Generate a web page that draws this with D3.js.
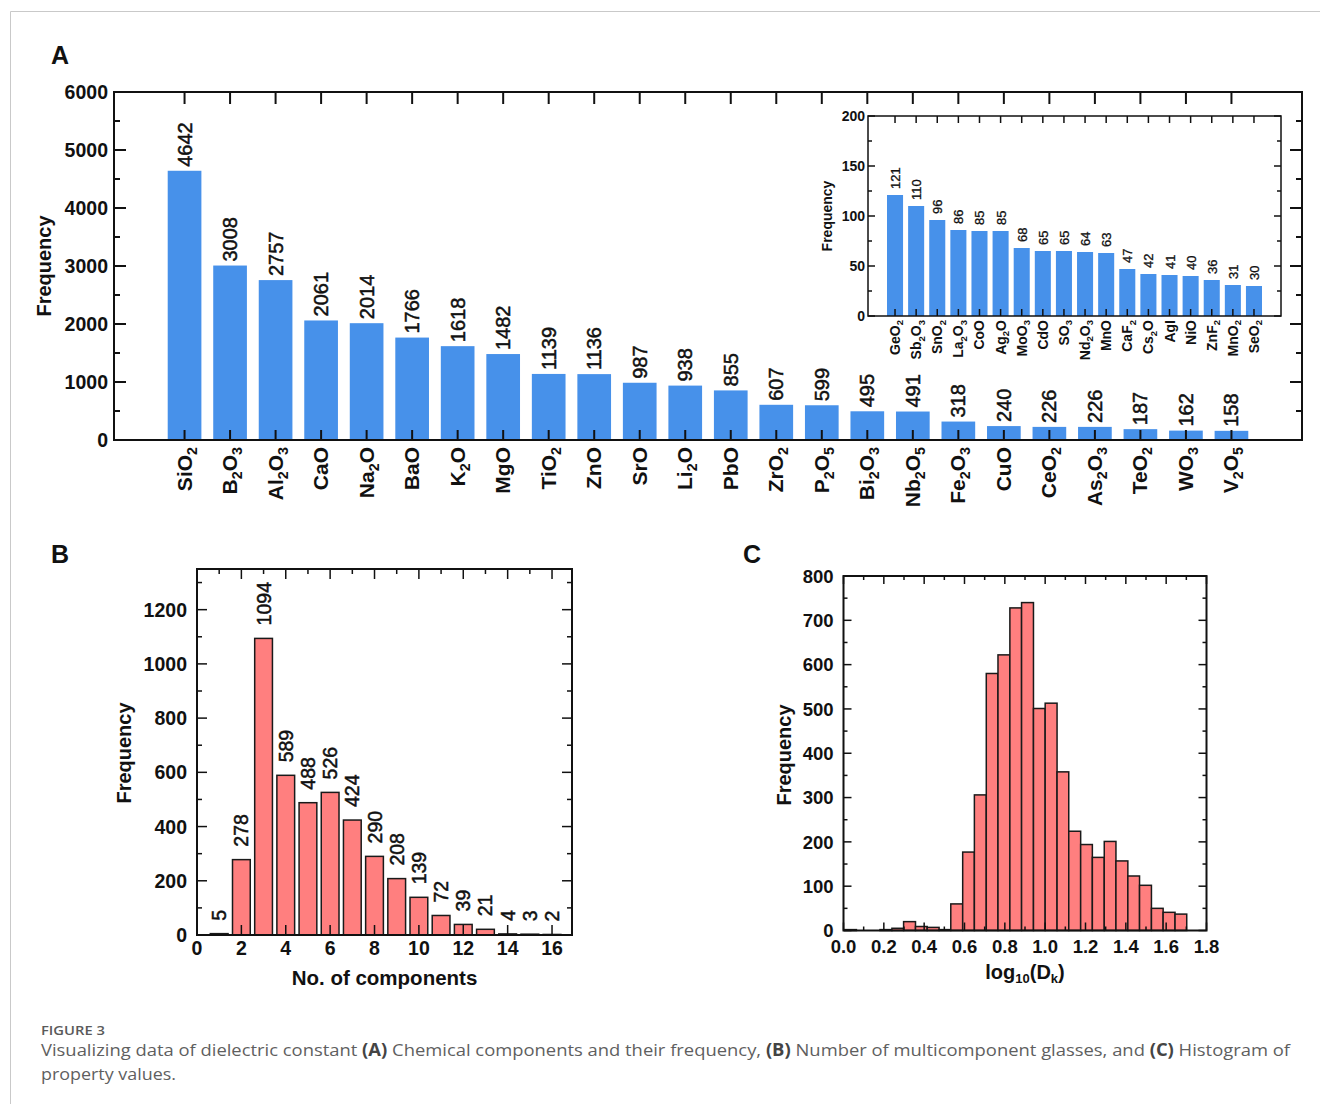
<!DOCTYPE html>
<html>
<head>
<meta charset="utf-8">
<script src="https://cdn.jsdelivr.net/npm/d3@7"></script>
<style>
  html, body { margin: 0; padding: 0; background: #fff; }
  svg { display: block; }
</style>
</head>
<body>
<script>
// ---------------- DATA ----------------
const catsA = ["SiO2","B2O3","Al2O3","CaO","Na2O","BaO","K2O","MgO","TiO2","ZnO","SrO","Li2O","PbO","ZrO2","P2O5","Bi2O3","Nb2O5","Fe2O3","CuO","CeO2","As2O3","TeO2","WO3","V2O5"];
const valsA = [4642,3008,2757,2061,2014,1766,1618,1482,1139,1136,987,938,855,607,599,495,491,318,240,226,226,187,162,158];
const ticksA = [0,1000,2000,3000,4000,5000,6000];

const catsInset = ["GeO2","Sb2O3","SnO2","La2O3","CoO","Ag2O","MoO3","CdO","SO3","Nd2O3","MnO","CaF2","Cs2O","AgI","NiO","ZnF2","MnO2","SeO2"];
const valsInset = [121,110,96,86,85,85,68,65,65,64,63,47,42,41,40,36,31,30];
const ticksInset = [0,50,100,150,200];

const compsB = [1,2,3,4,5,6,7,8,9,10,11,12,13,14,15,16];
const valsB = [5,278,1094,589,488,526,424,290,208,139,72,39,21,4,3,2];
const xTicksB = [0,2,4,6,8,10,12,14,16];
const yTicksB = [0,200,400,600,800,1000,1200];

const binEdgesC = [0.006,0.064,0.123,0.181,0.240,0.298,0.357,0.415,0.474,0.532,0.591,0.649,0.708,0.766,0.825,0.883,0.942,1.000,1.059,1.117,1.176,1.234,1.293,1.351,1.410,1.468,1.527,1.585,1.644,1.702];
const countsC = [2,0,0,2,5,20,9,7,2,60,177,306,580,622,728,740,501,513,358,224,194,165,201,157,123,102,50,41,37];
const xTicksC = [0,0.2,0.4,0.6,0.8,1.0,1.2,1.4,1.6,1.8];
const yTicksC = [0,100,200,300,400,500,600,700,800];

// ---------------- SETUP ----------------
const W = 1320, H = 1104;
const FONT = "'Liberation Sans', Arial, Helvetica, sans-serif";
const svg = d3.select("body").append("svg").attr("width", W).attr("height", H)
  .style("font-family", FONT);

// page border
svg.append("path").attr("d", `M10.5,${H} L10.5,11.5 L${W},11.5`)
  .attr("fill", "none").attr("stroke", "#c9c9c9").attr("stroke-width", 1);

function formula(textSel, str, fs) {
  const parts = str.match(/\d+|\D+/g);
  let sub = false;
  parts.forEach(p => {
    if (/^\d+$/.test(p)) {
      textSel.append("tspan").attr("font-size", fs * 0.68).attr("dy", fs * 0.24).text(p);
      sub = true;
    } else {
      const t = textSel.append("tspan").text(p);
      if (sub) { t.attr("dy", -fs * 0.24); sub = false; }
    }
  });
}

function hTicks(g, y, vals, x0, x1, len, sw) {
  vals.forEach(v => {
    g.append("line").attr("x1", x0).attr("x2", x0 + len).attr("y1", y(v)).attr("y2", y(v))
      .attr("stroke", "#111").attr("stroke-width", sw);
    g.append("line").attr("x1", x1).attr("x2", x1 - len).attr("y1", y(v)).attr("y2", y(v))
      .attr("stroke", "#111").attr("stroke-width", sw);
  });
}
function vTicks(g, xs, y0, y1, lenTop, lenBot, sw) {
  xs.forEach(xv => {
    if (lenTop > 0) g.append("line").attr("x1", xv).attr("x2", xv).attr("y1", y0).attr("y2", y0 + lenTop)
      .attr("stroke", "#111").attr("stroke-width", sw);
    if (lenBot > 0) g.append("line").attr("x1", xv).attr("x2", xv).attr("y1", y1).attr("y2", y1 - lenBot)
      .attr("stroke", "#111").attr("stroke-width", sw);
  });
}
function frame(g, x0, x1, y0, y1, sw) {
  g.append("rect").attr("x", x0).attr("y", y0).attr("width", x1 - x0).attr("height", y1 - y0)
    .attr("fill", "none").attr("stroke", "#111").attr("stroke-width", sw);
}
function rotLabel(g, x, y, text, fs, weight) {
  return g.append("text").attr("transform", `translate(${x},${y}) rotate(-90)`)
    .attr("text-anchor", "middle").attr("font-size", fs).attr("font-weight", weight)
    .attr("fill", "#111").text(text);
}
// value labels: regular weight, slightly thickened like the source raster
function valLabel(g, x, y, v, fs) {
  g.append("text").attr("transform", `translate(${x},${y}) rotate(-90)`)
    .attr("text-anchor", "start").attr("font-size", fs).attr("fill", "#111")
    .attr("stroke", "#111").attr("stroke-width", fs > 15 ? 0.5 : 0.3).text(v);
}

// ---------------- PANEL A ----------------
const gA = svg.append("g");
const AX0 = 114, AX1 = 1302, AY0 = 92, AY1 = 440;
const xA = d3.scaleBand().domain(catsA).range([AX0, AX1]).paddingInner(0.26).paddingOuter(1.18);
const yA = d3.scaleLinear().domain([0, 6000]).range([AY1, AY0]);

gA.selectAll("rect.bar").data(catsA).join("rect").attr("class", "bar")
  .attr("x", d => xA(d)).attr("width", xA.bandwidth())
  .attr("y", (d, i) => yA(valsA[i])).attr("height", (d, i) => yA(0) - yA(valsA[i]))
  .attr("fill", "#4791ea");

const minorA = d3.range(500, 6000, 1000);
hTicks(gA, yA, ticksA, AX0, AX1, 12, 2);
hTicks(gA, yA, minorA, AX0, AX1, 6, 2);
const centersA = catsA.map(c => xA(c) + xA.bandwidth() / 2);
vTicks(gA, centersA, AY0, AY1, 12, 10, 2);
frame(gA, AX0, AX1, AY0, AY1, 2);

gA.selectAll("text.yt").data(ticksA).join("text").attr("class", "yt")
  .attr("x", AX0 - 6).attr("y", d => yA(d)).attr("dy", "0.36em")
  .attr("text-anchor", "end").attr("font-size", 19.5).attr("font-weight", "bold").attr("fill", "#111")
  .text(d => d);

catsA.forEach((c, i) => {
  const cx = centersA[i];
  const t = gA.append("text").attr("transform", `translate(${cx + 7},447) rotate(-90)`)
    .attr("text-anchor", "end").attr("font-size", 21).attr("font-weight", "bold").attr("fill", "#111");
  formula(t, c, 21);
  valLabel(gA, cx + 7, yA(valsA[i]) - 4, valsA[i], 20);
});
rotLabel(gA, 51, 266, "Frequency", 20, "bold");
gA.append("text").attr("x", 51).attr("y", 64).attr("font-size", 25).attr("font-weight", "bold")
  .attr("fill", "#111").text("A");

// ---------------- INSET ----------------
const gI = svg.append("g");
const IX0 = 868, IX1 = 1281, IY0 = 116, IY1 = 316;
const xI = d3.scaleBand().domain(catsInset).range([IX0, IX1]).paddingInner(0.24).paddingOuter(0.9);
const yI = d3.scaleLinear().domain([0, 200]).range([IY1, IY0]);
gI.append("rect").attr("x", IX0).attr("y", IY0).attr("width", IX1 - IX0).attr("height", IY1 - IY0).attr("fill", "#fff");
gI.selectAll("rect.bar").data(catsInset).join("rect").attr("class", "bar")
  .attr("x", d => xI(d)).attr("width", xI.bandwidth())
  .attr("y", (d, i) => yI(valsInset[i])).attr("height", (d, i) => yI(0) - yI(valsInset[i]))
  .attr("fill", "#4791ea");
hTicks(gI, yI, ticksInset, IX0, IX1, 7, 1.5);
hTicks(gI, yI, [25, 75, 125, 175], IX0, IX1, 4, 1.5);
const centersI = catsInset.map(c => xI(c) + xI.bandwidth() / 2);
vTicks(gI, centersI, IY0, IY1, 7, 7, 1.5);
frame(gI, IX0, IX1, IY0, IY1, 1.5);
gI.selectAll("text.yt").data(ticksInset).join("text").attr("class", "yt")
  .attr("x", IX0 - 3).attr("y", d => yI(d)).attr("dy", "0.36em")
  .attr("text-anchor", "end").attr("font-size", 14).attr("font-weight", "bold").attr("fill", "#111")
  .text(d => d);
catsInset.forEach((c, i) => {
  const cx = centersI[i];
  const t = gI.append("text").attr("transform", `translate(${cx + 5},320) rotate(-90)`)
    .attr("text-anchor", "end").attr("font-size", 14).attr("font-weight", "bold").attr("fill", "#111");
  formula(t, c, 14);
  valLabel(gI, cx + 5, yI(valsInset[i]) - 6, valsInset[i], 13);
});
rotLabel(gI, 832, 216, "Frequency", 14, "bold");

// ---------------- PANEL B ----------------
const gB = svg.append("g");
const BX0 = 197, BX1 = 572, BY0 = 569, BY1 = 935;
const xB = d3.scaleLinear().domain([0, 16.9]).range([BX0, BX1]);
const yB = d3.scaleLinear().domain([0, 1350]).range([BY1, BY0]);
gB.selectAll("rect.bar").data(compsB).join("rect").attr("class", "bar")
  .attr("x", d => xB(d - 0.4)).attr("width", d => xB(d + 0.4) - xB(d - 0.4))
  .attr("y", (d, i) => yB(valsB[i])).attr("height", (d, i) => yB(0) - yB(valsB[i]))
  .attr("fill", "#ff7f7f").attr("stroke", "#1a1a1a").attr("stroke-width", 1.5);
hTicks(gB, yB, yTicksB, BX0, BX1, 10, 1.5);
hTicks(gB, yB, d3.range(100, 1350, 200), BX0, BX1, 5, 1.5);
vTicks(gB, xTicksB.map(xB), BY0, BY1, 10, 10, 1.5);
vTicks(gB, d3.range(1, 17, 2).map(xB), BY0, BY1, 5, 0, 1.5);
frame(gB, BX0, BX1, BY0, BY1, 2);
gB.selectAll("text.yt").data(yTicksB).join("text").attr("class", "yt")
  .attr("x", BX0 - 10).attr("y", d => yB(d)).attr("dy", "0.36em")
  .attr("text-anchor", "end").attr("font-size", 19.5).attr("font-weight", "bold").attr("fill", "#111")
  .text(d => d);
gB.selectAll("text.xt").data(xTicksB).join("text").attr("class", "xt")
  .attr("x", d => xB(d)).attr("y", 955)
  .attr("text-anchor", "middle").attr("font-size", 19.5).attr("font-weight", "bold").attr("fill", "#111")
  .text(d => d);
compsB.forEach((c, i) => {
  valLabel(gB, xB(c) + 7, yB(valsB[i]) - 13, valsB[i], 19.5);
});
gB.append("text").attr("x", (BX0 + BX1) / 2).attr("y", 985).attr("text-anchor", "middle")
  .attr("font-size", 20.5).attr("font-weight", "bold").attr("fill", "#111").text("No. of components");
rotLabel(gB, 131, 753, "Frequency", 20, "bold");
gB.append("text").attr("x", 51).attr("y", 563).attr("font-size", 25).attr("font-weight", "bold")
  .attr("fill", "#111").text("B");

// ---------------- PANEL C ----------------
const gC = svg.append("g");
const CX0 = 843.5, CX1 = 1206.5, CY0 = 576, CY1 = 930.5;
const xC = d3.scaleLinear().domain([0, 1.8]).range([CX0, CX1]);
const yC = d3.scaleLinear().domain([0, 800]).range([CY1, CY0]);
gC.selectAll("rect.bar").data(countsC).join("rect").attr("class", "bar")
  .attr("x", (d, i) => xC(binEdgesC[i])).attr("width", (d, i) => xC(binEdgesC[i + 1]) - xC(binEdgesC[i]))
  .attr("y", d => yC(d)).attr("height", d => yC(0) - yC(d))
  .attr("fill", "#ff7f7f").attr("stroke", "#1a1a1a").attr("stroke-width", 1.5);
hTicks(gC, yC, yTicksC, CX0, CX1, 8, 1.5);
hTicks(gC, yC, d3.range(50, 800, 100), CX0, CX1, 4, 1.5);
vTicks(gC, xTicksC.map(xC), CY0, CY1, 8, 8, 1.5);
vTicks(gC, [0.1,0.3,0.5,0.7,0.9,1.1,1.3,1.5,1.7].map(xC), CY0, CY1, 4, 4, 1.5);
frame(gC, CX0, CX1, CY0, CY1, 2);
gC.selectAll("text.yt").data(yTicksC).join("text").attr("class", "yt")
  .attr("x", CX0 - 10).attr("y", d => yC(d)).attr("dy", "0.36em")
  .attr("text-anchor", "end").attr("font-size", 18.5).attr("font-weight", "bold").attr("fill", "#111")
  .text(d => d);
gC.selectAll("text.xt").data(xTicksC).join("text").attr("class", "xt")
  .attr("x", d => xC(d)).attr("y", 953)
  .attr("text-anchor", "middle").attr("font-size", 18.5).attr("font-weight", "bold").attr("fill", "#111")
  .text(d => d3.format(".1f")(d));
const xl = gC.append("text").attr("x", (CX0 + CX1) / 2).attr("y", 979).attr("text-anchor", "middle")
  .attr("font-size", 20).attr("font-weight", "bold").attr("fill", "#111");
xl.append("tspan").text("log");
xl.append("tspan").attr("font-size", 13).attr("dy", 4).text("10");
xl.append("tspan").attr("dy", -4).text("(D");
xl.append("tspan").attr("font-size", 13).attr("dy", 4).text("k");
xl.append("tspan").attr("dy", -4).text(")");
rotLabel(gC, 791, 755, "Frequency", 20, "bold");
gC.append("text").attr("x", 743).attr("y", 563).attr("font-size", 25).attr("font-weight", "bold")
  .attr("fill", "#111").text("C");

// ---------------- CAPTION ----------------
const CAPFONT = "'Open Sans', 'Noto Sans', sans-serif";
svg.append("text").attr("x", 41).attr("y", 1035).attr("font-family", CAPFONT)
  .attr("font-size", 13).attr("font-weight", 600).attr("fill", "#5a5a5a")
  .attr("textLength", 64).attr("lengthAdjust", "spacingAndGlyphs").text("FIGURE 3");
const cap1 = svg.append("text").attr("x", 41).attr("y", 1056).attr("font-family", CAPFONT)
  .attr("font-size", 17).attr("fill", "#5f5f5f")
  .attr("textLength", 1249).attr("lengthAdjust", "spacingAndGlyphs");
[["Visualizing data of dielectric constant ", false], ["(A)", true],
 [" Chemical components and their frequency, ", false], ["(B)", true],
 [" Number of multicomponent glasses, and ", false], ["(C)", true], [" Histogram of", false]]
  .forEach(([t, b]) => {
    const s = cap1.append("tspan").text(t);
    if (b) s.attr("font-weight", "bold").attr("fill", "#444");
  });
svg.append("text").attr("x", 41).attr("y", 1080).attr("font-family", CAPFONT)
  .attr("font-size", 17).attr("fill", "#5f5f5f")
  .attr("textLength", 135).attr("lengthAdjust", "spacingAndGlyphs").text("property values.");
</script>
</body>
</html>
